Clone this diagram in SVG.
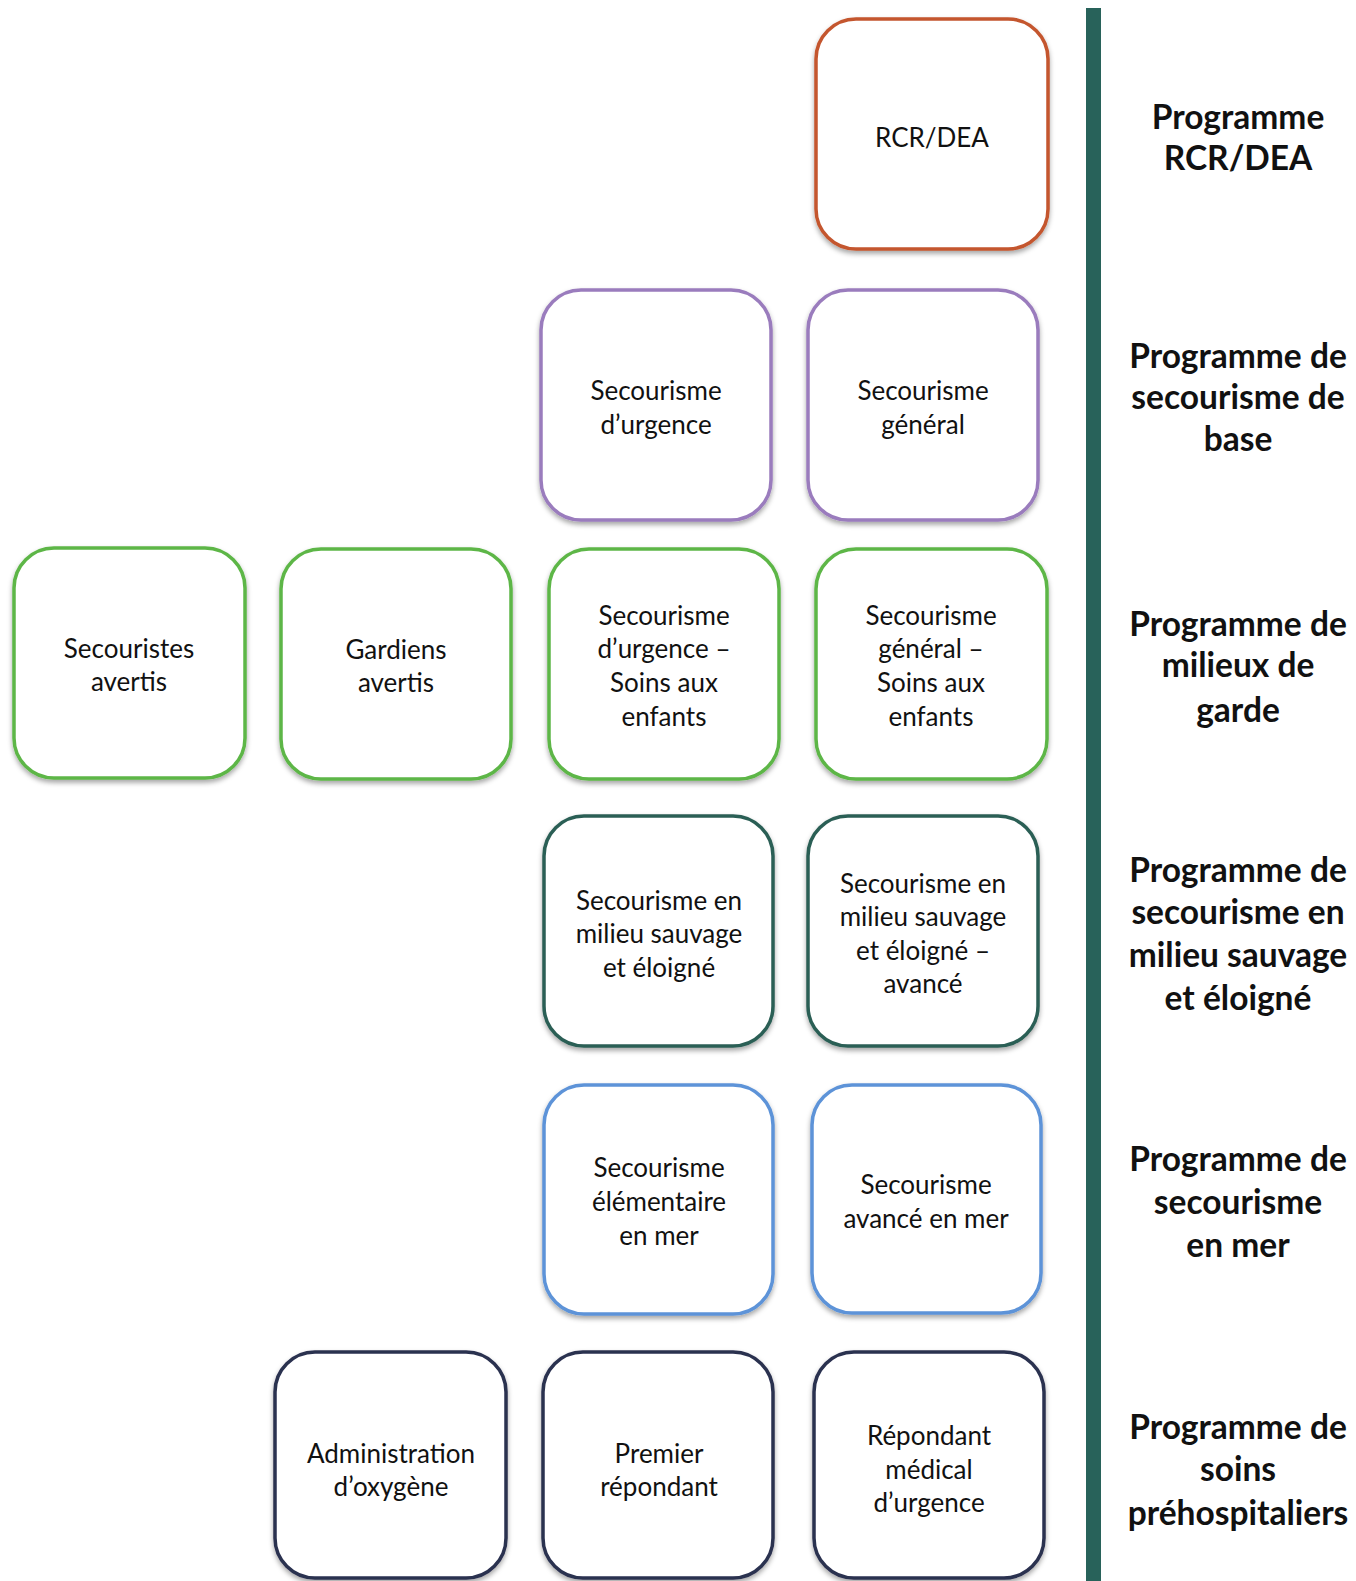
<svg xmlns="http://www.w3.org/2000/svg" width="1356" height="1581" viewBox="0 0 1356 1581">
<style>
.box{fill:#ffffff;stroke-width:3.5;filter:url(#sh)}
.t{font-family:Lato,"Liberation Sans",sans-serif;font-size:26px;fill:#111;text-anchor:middle}
.h{font-family:Lato,"Liberation Sans",sans-serif;font-size:33.5px;font-weight:bold;fill:#111;text-anchor:middle}
.or{stroke:#c4562f}.pu{stroke:#9a7cbd}.gr{stroke:#5db647}.dt{stroke:#2c5e55}.bl{stroke:#5d93d8}.nv{stroke:#2b3050}
</style>
<defs>
<filter id="sh" x="-10%" y="-10%" width="120%" height="125%">
<feDropShadow dx="0" dy="3" stdDeviation="2.5" flood-color="#000" flood-opacity="0.35"/>
</filter>
</defs>
<rect width="1356" height="1581" fill="#ffffff"/>
<g id="connectors">
<rect x="1086" y="8" width="15" height="1573" fill="#28625a"/>
</g>
<g id="n-rcr"><rect class="box or" x="816" y="19" width="232" height="230" rx="40"/><text class="t" x="932" y="147">RCR/DEA</text></g>
<g id="n-su"><rect class="box pu" x="541" y="290" width="230" height="230" rx="40"/><text class="t" x="656" y="400">Secourisme</text><text class="t" x="656" y="434">d’urgence</text></g>
<g id="n-sg"><rect class="box pu" x="808" y="290" width="230" height="230" rx="40"/><text class="t" x="923" y="400">Secourisme</text><text class="t" x="923" y="434">général</text></g>
<g id="n-sa"><rect class="box gr" x="14" y="548" width="231" height="230" rx="40"/><text class="t" x="129" y="658">Secouristes</text><text class="t" x="129" y="691">avertis</text></g>
<g id="n-ga"><rect class="box gr" x="281" y="549" width="230" height="230" rx="40"/><text class="t" x="396" y="659">Gardiens</text><text class="t" x="396" y="692">avertis</text></g>
<g id="n-suse"><rect class="box gr" x="549" y="549" width="230" height="230" rx="40"/><text class="t" x="664" y="625">Secourisme</text><text class="t" x="664" y="658">d’urgence –</text><text class="t" x="664" y="692">Soins aux</text><text class="t" x="664" y="726">enfants</text></g>
<g id="n-sgse"><rect class="box gr" x="816" y="549" width="231" height="230" rx="40"/><text class="t" x="931" y="625">Secourisme</text><text class="t" x="931" y="658">général –</text><text class="t" x="931" y="692">Soins aux</text><text class="t" x="931" y="726">enfants</text></g>
<g id="n-smse"><rect class="box dt" x="544" y="816" width="229" height="230" rx="40"/><text class="t" x="659" y="910">Secourisme en</text><text class="t" x="659" y="943">milieu sauvage</text><text class="t" x="659" y="977">et éloigné</text></g>
<g id="n-smsea"><rect class="box dt" x="808" y="816" width="230" height="230" rx="40"/><text class="t" x="923" y="893">Secourisme en</text><text class="t" x="923" y="926">milieu sauvage</text><text class="t" x="923" y="960">et éloigné –</text><text class="t" x="923" y="993">avancé</text></g>
<g id="n-sem"><rect class="box bl" x="544" y="1085" width="229" height="229" rx="40"/><text class="t" x="659" y="1177">Secourisme</text><text class="t" x="659" y="1211">élémentaire</text><text class="t" x="659" y="1245">en mer</text></g>
<g id="n-sam"><rect class="box bl" x="812" y="1085" width="229" height="228" rx="40"/><text class="t" x="926" y="1194">Secourisme</text><text class="t" x="926" y="1228">avancé en mer</text></g>
<g id="n-ao"><rect class="box nv" x="275" y="1352" width="231" height="226" rx="40"/><text class="t" x="391" y="1463">Administration</text><text class="t" x="391" y="1496">d’oxygène</text></g>
<g id="n-pr"><rect class="box nv" x="543" y="1352" width="230" height="226" rx="40"/><text class="t" x="659" y="1463">Premier</text><text class="t" x="659" y="1496">répondant</text></g>
<g id="n-rmu"><rect class="box nv" x="814" y="1352" width="230" height="226" rx="40"/><text class="t" x="929" y="1445">Répondant</text><text class="t" x="929" y="1479">médical</text><text class="t" x="929" y="1512">d’urgence</text></g>
<g id="labels">
<text class="h" x="1238" y="129">Programme</text><text class="h" x="1238" y="170">RCR/DEA</text>
<text class="h" x="1238" y="368">Programme de</text><text class="h" x="1238" y="409">secourisme de</text><text class="h" x="1238" y="451">base</text>
<text class="h" x="1238" y="636">Programme de</text><text class="h" x="1238" y="677">milieux de</text><text class="h" x="1238" y="722">garde</text>
<text class="h" x="1238" y="882">Programme de</text><text class="h" x="1238" y="924">secourisme en</text><text class="h" x="1238" y="967">milieu sauvage</text><text class="h" x="1238" y="1010">et éloigné</text>
<text class="h" x="1238" y="1171">Programme de</text><text class="h" x="1238" y="1214">secourisme</text><text class="h" x="1238" y="1257">en mer</text>
<text class="h" x="1238" y="1439">Programme de</text><text class="h" x="1238" y="1481">soins</text><text class="h" x="1238" y="1525">préhospitaliers</text>
</g>
</svg>
